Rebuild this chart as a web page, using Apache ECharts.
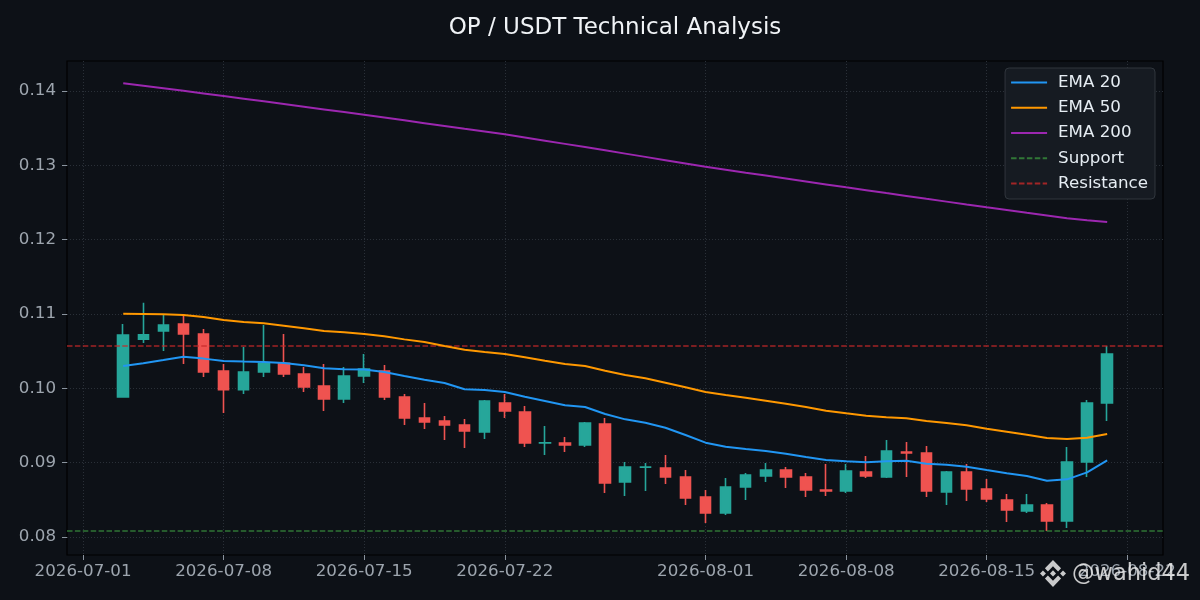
<!DOCTYPE html>
<html>
<head>
<meta charset="utf-8">
<title>OP / USDT Technical Analysis</title>
<script src="https://cdn.jsdelivr.net/npm/echarts@6.0.0/dist/echarts.min.js"></script>
<style>
  html, body { margin: 0; padding: 0; background: #0d1117; }
  #chart { width: 1200px; height: 600px; }
</style>
</head>
<body>
<div id="chart"></div>
<script>
// daily candles
var dates = [
  '2026-07-03', '2026-07-04', '2026-07-05', '2026-07-06', '2026-07-07', '2026-07-08', '2026-07-09', '2026-07-10',
  '2026-07-11', '2026-07-12', '2026-07-13', '2026-07-14', '2026-07-15', '2026-07-16', '2026-07-17', '2026-07-18',
  '2026-07-19', '2026-07-20', '2026-07-21', '2026-07-22', '2026-07-23', '2026-07-24', '2026-07-25', '2026-07-26',
  '2026-07-27', '2026-07-28', '2026-07-29', '2026-07-30', '2026-07-31', '2026-08-01', '2026-08-02', '2026-08-03',
  '2026-08-04', '2026-08-05', '2026-08-06', '2026-08-07', '2026-08-08', '2026-08-09', '2026-08-10', '2026-08-11',
  '2026-08-12', '2026-08-13', '2026-08-14', '2026-08-15', '2026-08-16', '2026-08-17', '2026-08-18', '2026-08-19',
  '2026-08-20', '2026-08-21'
];
var opens = [
  0.09883, 0.10660, 0.10771, 0.10866, 0.10731, 0.10233, 0.09982, 0.10220, 0.10337, 0.10193,
  0.10031, 0.09857, 0.10166, 0.10233, 0.09883, 0.09601, 0.09561, 0.09507, 0.09413, 0.09803,
  0.09682, 0.09265, 0.09265, 0.09238, 0.09520, 0.08740, 0.08940, 0.08928, 0.08807, 0.08538,
  0.08323, 0.08673, 0.08821, 0.08901, 0.08807, 0.08632, 0.08619, 0.08874, 0.08807, 0.09144,
  0.09130, 0.08605, 0.08874, 0.08646, 0.08498, 0.08350, 0.08431, 0.08215, 0.09009, 0.09803
];
var closes = [
  0.10718, 0.10720, 0.10852, 0.10731, 0.10220, 0.09982, 0.10220, 0.10337, 0.10193, 0.10018,
  0.09857, 0.10166, 0.10260, 0.09883, 0.09601, 0.09547, 0.09507, 0.09426, 0.09830, 0.09695,
  0.09265, 0.09268, 0.09238, 0.09534, 0.08726, 0.08942, 0.08942, 0.08807, 0.08525, 0.08323,
  0.08673, 0.08834, 0.08901, 0.08807, 0.08632, 0.08619, 0.08888, 0.08821, 0.09157, 0.09130,
  0.08619, 0.08874, 0.08646, 0.08511, 0.08363, 0.08431, 0.08215, 0.09009, 0.09803, 0.10462
];
var lows = [
  0.09883, 0.10610, 0.10502, 0.10327, 0.10153, 0.09668, 0.09924, 0.10153, 0.10153, 0.09951,
  0.09695, 0.09803, 0.10072, 0.09843, 0.09507, 0.09453, 0.09305, 0.09197, 0.09318, 0.09601,
  0.09211, 0.09103, 0.09144, 0.09211, 0.08592, 0.08552, 0.08619, 0.08713, 0.08431, 0.08188,
  0.08296, 0.08498, 0.08740, 0.08659, 0.08538, 0.08552, 0.08592, 0.08794, 0.08794, 0.08807,
  0.08538, 0.08431, 0.08484, 0.08471, 0.08202, 0.08323, 0.08081, 0.08121, 0.08807, 0.09561
];
var highs = [
  0.10866, 0.11150, 0.10987, 0.10973, 0.10798, 0.10327, 0.10556, 0.10852, 0.10731, 0.10287,
  0.10327, 0.10287, 0.10462, 0.10314, 0.09924, 0.09803, 0.09628, 0.09588, 0.09843, 0.09924,
  0.09762, 0.09493, 0.09345, 0.09547, 0.09601, 0.09009, 0.08996, 0.09103, 0.08901, 0.08632,
  0.08794, 0.08861, 0.08996, 0.08942, 0.08861, 0.08982, 0.08982, 0.09090, 0.09305, 0.09278,
  0.09224, 0.08888, 0.08982, 0.08780, 0.08579, 0.08579, 0.08457, 0.09211, 0.09843, 0.10570
];

// moving averages as drawn
var ema20 = [
  0.10300, 0.10337, 0.10381, 0.10426, 0.10400, 0.10368, 0.10360, 0.10354, 0.10341, 0.10310,
  0.10270, 0.10256, 0.10255, 0.10220, 0.10166, 0.10117, 0.10072, 0.09987, 0.09978, 0.09951,
  0.09888, 0.09830, 0.09772, 0.09749, 0.09655, 0.09583, 0.09538, 0.09470, 0.09372, 0.09269,
  0.09215, 0.09184, 0.09157, 0.09121, 0.09076, 0.09036, 0.09018, 0.09005, 0.09018, 0.09025,
  0.08986, 0.08973, 0.08946, 0.08901, 0.08857, 0.08821, 0.08757, 0.08776, 0.08870, 0.09031
];
var ema50 = [
  0.11004, 0.11000, 0.10996, 0.10987, 0.10960, 0.10919, 0.10892, 0.10875, 0.10843, 0.10808,
  0.10771, 0.10754, 0.10731, 0.10700, 0.10659, 0.10623, 0.10570, 0.10520, 0.10489, 0.10462,
  0.10418, 0.10372, 0.10327, 0.10300, 0.10238, 0.10180, 0.10135, 0.10076, 0.10014, 0.09951,
  0.09910, 0.09874, 0.09834, 0.09793, 0.09749, 0.09700, 0.09664, 0.09632, 0.09610, 0.09597,
  0.09561, 0.09534, 0.09503, 0.09457, 0.09417, 0.09377, 0.09332, 0.09318, 0.09336, 0.09386
];
var ema200 = [
  0.14104, 0.14071, 0.14037, 0.14003, 0.13968, 0.13933, 0.13897, 0.13861, 0.13825, 0.13789,
  0.13753, 0.13717, 0.13681, 0.13644, 0.13606, 0.13568, 0.13530, 0.13492, 0.13455, 0.13418,
  0.13375, 0.13332, 0.13289, 0.13246, 0.13202, 0.13158, 0.13114, 0.13070, 0.13026, 0.12982,
  0.12942, 0.12902, 0.12863, 0.12823, 0.12783, 0.12744, 0.12704, 0.12666, 0.12627, 0.12589,
  0.12550, 0.12512, 0.12473, 0.12435, 0.12399, 0.12362, 0.12326, 0.12290, 0.12263, 0.12238
];

var supportLevel = 0.0808;
var resistanceLevel = 0.1057;

var xTicks = ['2026-07-01', '2026-07-08', '2026-07-15', '2026-07-22', '2026-08-01', '2026-08-08', '2026-08-15', '2026-08-22'];
var yTicks = [0.08, 0.09, 0.10, 0.11, 0.12, 0.13, 0.14];

var DAY = 86400000;
var FONT = 'DejaVu Sans';

function toTime(s) {
  var p = s.split('-');
  return Date.UTC(+p[0], +p[1] - 1, +p[2]);
}
function pad(n) { return n < 10 ? '0' + n : '' + n; }
function fmtDate(t) {
  var d = new Date(Math.round(t / DAY) * DAY);
  return d.getUTCFullYear() + '-' + pad(d.getUTCMonth() + 1) + '-' + pad(d.getUTCDate());
}

var times = dates.map(toTime);
var xMin = toTime('2026-07-01') - 0.8 * DAY;
var xMax = toTime('2026-07-01') + 53.78 * DAY;

var candleData = [];
for (var i = 0; i < times.length; i++) {
  // echarts order: open, close, low, high
  candleData.push([times[i], opens[i], closes[i], lows[i], highs[i]]);
}
function pairs(vals) {
  return vals.map(function (v, i) { return [times[i], v]; });
}

// binance mark, in its own 126 x 126 box
var logoParts = [
  [[38.17, 53.2], [62.76, 28.62], [87.36, 53.22], [101.67, 38.91], [62.76, 0], [23.86, 38.9]],
  [[0, 62.76], [14.31, 48.45], [28.61, 62.76], [14.31, 77.07]],
  [[38.17, 72.31], [62.76, 96.9], [87.36, 72.3], [101.67, 86.6], [62.76, 125.5], [23.86, 86.61]],
  [[96.9, 62.76], [111.21, 48.45], [125.52, 62.76], [111.21, 77.07]],
  [[77.27, 62.75], [62.76, 48.23], [48.24, 62.75], [62.76, 77.28]]
];
var markColor = 'rgba(235,235,235,0.85)';

var myChart = echarts.init(document.getElementById('chart'));

var option = {
  animation: false,
  backgroundColor: '#0d1117',
  textStyle: { fontFamily: FONT },
  grid: {
    left: 67, right: 37, top: 61, bottom: 45,
    show: true, borderColor: '#000000', borderWidth: 1.2,
    outerBoundsMode: 'none'
  },
  legend: {
    orient: 'vertical',
    right: 45, top: 68,
    backgroundColor: '#161b22',
    borderColor: '#30363d', borderWidth: 1, borderRadius: 4,
    padding: [6, 7, 7, 5],
    itemWidth: 36, itemHeight: 2, itemGap: 8.25,
    itemStyle: { opacity: 0 },
    textStyle: { color: '#e6edf3', fontSize: 16.7, fontFamily: FONT, lineHeight: 17, padding: [0, 0, 0, 6] },
    data: ['EMA 20', 'EMA 50', 'EMA 200', 'Support', 'Resistance']
  },
  xAxis: {
    type: 'value',
    min: xMin, max: xMax,
    axisLine: { show: false },
    axisTick: {
      show: true, length: 5, lineStyle: { color: '#8b949e', width: 1 },
      customValues: xTicks.map(toTime)
    },
    axisLabel: {
      color: '#9da5ae', fontSize: 16.7, fontFamily: FONT, margin: 8,
      customValues: xTicks.map(toTime),
      formatter: function (v) { return fmtDate(v); }
    },
    splitLine: { show: true, lineStyle: { color: '#2a3038', type: [1, 2], width: 1 } }
  },
  yAxis: {
    type: 'value',
    min: 0.07758, max: 0.14404,
    axisLine: { show: false },
    axisTick: {
      show: true, length: 5, lineStyle: { color: '#8b949e', width: 1 },
      customValues: yTicks
    },
    axisLabel: {
      color: '#9da5ae', fontSize: 16.7, fontFamily: FONT, margin: 11,
      customValues: yTicks,
      formatter: function (v) { return v.toFixed(2); }
    },
    splitLine: { show: true, lineStyle: { color: '#2a3038', type: [1, 2], width: 1 } }
  },
  series: [
    {
      name: 'OP/USDT',
      type: 'candlestick',
      z: 1,
      barWidth: 11,
      data: candleData,
      itemStyle: {
        color: '#26a69a', color0: '#ef5350',
        borderColor: '#26a69a', borderColor0: '#ef5350',
        borderWidth: 1.6
      }
    },
    {
      name: 'EMA 20', type: 'line', z: 3, symbol: 'none',
      data: pairs(ema20),
      lineStyle: { color: '#2196f3', width: 2 }, itemStyle: { color: '#2196f3' }
    },
    {
      name: 'EMA 50', type: 'line', z: 3, symbol: 'none',
      data: pairs(ema50),
      lineStyle: { color: '#ff9800', width: 2 }, itemStyle: { color: '#ff9800' }
    },
    {
      name: 'EMA 200', type: 'line', z: 3, symbol: 'none',
      data: pairs(ema200),
      lineStyle: { color: '#9c27b0', width: 2 }, itemStyle: { color: '#9c27b0' }
    },
    {
      name: 'Support', type: 'line', z: 2, symbol: 'none',
      data: [[xMin, supportLevel], [xMax, supportLevel]],
      lineStyle: { color: '#388e3c', width: 1.5, type: [5.5, 2.4], opacity: 0.8 },
      itemStyle: { color: '#388e3c' }
    },
    {
      name: 'Resistance', type: 'line', z: 2, symbol: 'none',
      data: [[xMin, resistanceLevel], [xMax, resistanceLevel]],
      lineStyle: { color: '#c62828', width: 1.5, type: [5.5, 2.4], opacity: 0.8 },
      itemStyle: { color: '#c62828' }
    }
  ],
  graphic: [
    {
      type: 'text', x: 615, y: 28, z: 10,
      style: {
        text: 'OP / USDT Technical Analysis',
        fill: '#f0f3f6', fontSize: 23, fontFamily: FONT,
        align: 'center', verticalAlign: 'middle'
      }
    },
    {
      type: 'group', x: 1040, y: 560, scaleX: 0.207, scaleY: 0.215, z: 10,
      children: logoParts.map(function (pts) {
        return { type: 'polygon', shape: { points: pts }, style: { fill: markColor } };
      })
    },
    {
      type: 'text', x: 1072, y: 574, z: 10,
      style: {
        text: '@wahid44',
        fill: markColor, fontSize: 22.5, fontFamily: FONT,
        align: 'left', verticalAlign: 'middle'
      }
    }
  ]
};

myChart.setOption(option);
</script>
</body>
</html>
